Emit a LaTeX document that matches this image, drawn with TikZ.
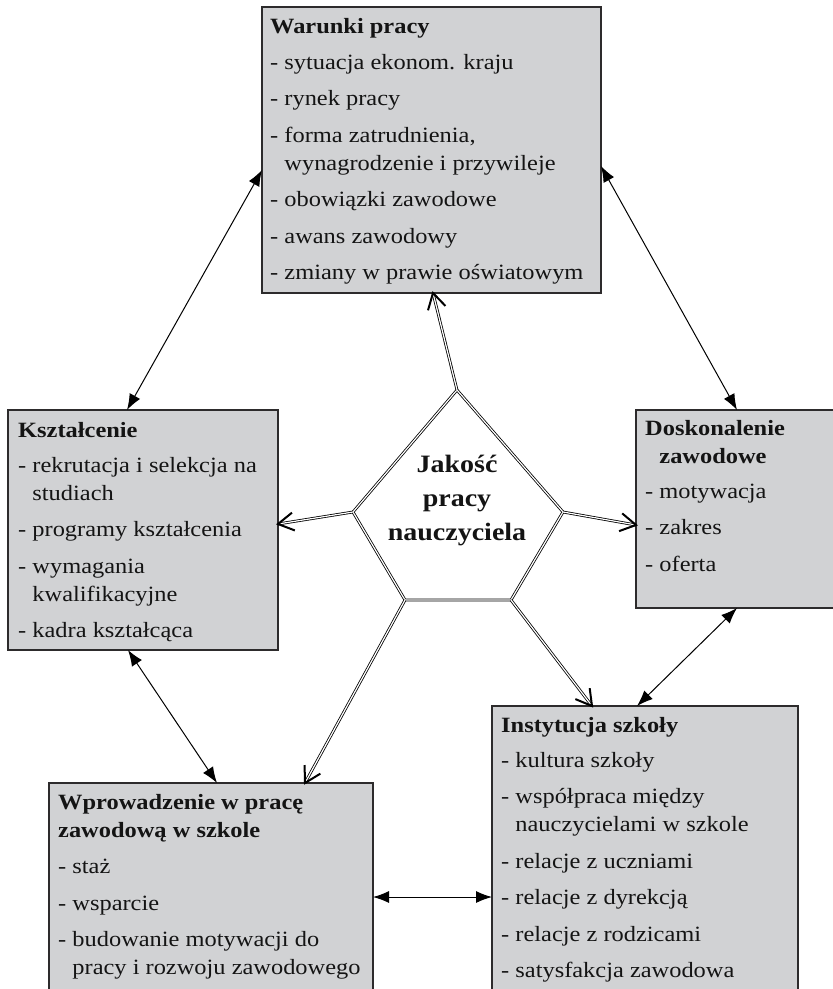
\documentclass[tikz,border=0pt]{standalone}
\usepackage{fontspec}
\setmainfont[FakeStretch=1.12]{Liberation Serif}
\usetikzlibrary{arrows.meta,calc}
\definecolor{boxfill}{RGB}{209,210,212}
\definecolor{boxline}{RGB}{45,43,44}
\newcommand\firstln{\rule{0pt}{17pt}}
\begin{document}
\begin{tikzpicture}[x=1pt,y=-1pt,
 box/.style={draw=boxline, line width=1.3pt, fill=boxfill, anchor=north west, inner sep=0pt, outer sep=0pt},
 txt/.style={anchor=north west, inner sep=0pt, align=left, text=black!92, font=\fontsize{21.8pt}{28pt}\selectfont},
 ctr/.style={anchor=north, inner sep=0pt, align=center, text=black!92, font=\bfseries\fontsize{25pt}{34pt}\selectfont},
 dbl/.style={draw=black, line width=0.8pt, double=white, double distance=1.2pt},
 barbline/.style={draw=black, line width=2pt, line cap=butt, line join=miter},
 link/.style={draw=black, line width=1pt, {Latex[length=16pt,width=12pt]}-{Latex[length=16pt,width=12pt]}}]
\useasboundingbox (0,0) rectangle (833,989);
\clip (0,0) rectangle (833,989);
% boxes
\node[box, minimum width=339pt, minimum height=286pt] (T) at (262,7) {};
\node[box, minimum width=270pt, minimum height=240pt] (L) at (8,410) {};
\node[box, minimum width=210pt, minimum height=198pt] (R) at (636,410) {};
\node[box, minimum width=324pt, minimum height=230pt] (BL) at (49,783) {};
\node[box, minimum width=306pt, minimum height=300pt] (BR) at (492,706) {};
% texts
\node[txt] (Tt) at ($(T.north west)+(8,9)$) {\firstln\textbf{Warunki pracy}\\[8pt]%
- sytuacja ekonom. kraju\\[8.5pt]%
- rynek pracy\\[8.5pt]%
- forma zatrudnienia,\\%
\phantom{- }wynagrodzenie i przywileje\\[8.5pt]%
- obowiązki zawodowe\\[8.5pt]%
- awans zawodowy\\[8.5pt]%
- zmiany w prawie oświatowym};
\node[txt] (Lt) at ($(L.north west)+(10,10)$) {\firstln\textbf{Kształcenie}\\[7pt]%
- rekrutacja i selekcja na\\%
\phantom{- }studiach\\[8.5pt]%
- programy kształcenia\\[8.5pt]%
- wymagania\\%
\phantom{- }kwalifikacyjne\\[8.5pt]%
- kadra kształcąca};
\node[txt] (Rt) at ($(R.north west)+(9,8)$) {\firstln\textbf{Doskonalenie}\\%
\textbf{\phantom{- }zawodowe}\\[7pt]%
- motywacja\\[8.5pt]%
- zakres\\[8.5pt]%
- oferta};
\node[txt] (BLt) at ($(BL.north west)+(9,9)$) {\firstln\textbf{Wprowadzenie w pracę}\\%
\textbf{zawodową w szkole}\\[8.5pt]%
- staż\\[8.5pt]%
- wsparcie\\[8.5pt]%
- budowanie motywacji do\\%
\phantom{- }pracy i rozwoju zawodowego};
\node[txt] (BRt) at ($(BR.north west)+(9,9)$) {\firstln\textbf{Instytucja szkoły}\\[7pt]%
- kultura szkoły\\[8.5pt]%
- współpraca między\\%
\phantom{- }nauczycielami w szkole\\[8.5pt]%
- relacje z uczniami\\[8.5pt]%
- relacje z dyrekcją\\[8.5pt]%
- relacje z rodzicami\\[8.5pt]%
- satysfakcja zawodowa};
% pentagon
\coordinate (P1) at (457,390);
\coordinate (P2) at (563,512);
\coordinate (P3) at (511,600);
\coordinate (P4) at (405,600);
\coordinate (P5) at (353,512);
\draw[dbl, fill=white, line join=miter] (P1)--(P2)--(P3)--(P4)--(P5)--cycle;
\node[ctr] (J) at (457,452) {\rule{0pt}{20pt}Jakość\\pracy\\nauczyciela};
% pentagon arrows
\coordinate (eT) at ($(T.south west)+(171,0)$);
\coordinate (eR) at ($(R.north west)+(0,115)$);
\coordinate (eL) at ($(L.north east)+(0,114)$);
\coordinate (eBL) at ($(BL.north west)+(256,0)$);
\coordinate (eBR) at ($(BR.north west)+(100,0)$);
\draw[dbl] (P1) -- (eT);
\draw[barbline] ($(eT)!18pt!30:(P1)$) -- (eT) -- ($(eT)!18pt!-30:(P1)$);
\draw[dbl] (P2) -- (eR);
\draw[barbline] ($(eR)!18pt!30:(P2)$) -- (eR) -- ($(eR)!18pt!-30:(P2)$);
\draw[dbl] (P5) -- (eL);
\draw[barbline] ($(eL)!18pt!30:(P5)$) -- (eL) -- ($(eL)!18pt!-30:(P5)$);
\draw[dbl] (P4) -- (eBL);
\draw[barbline] ($(eBL)!18pt!30:(P4)$) -- (eBL) -- ($(eBL)!18pt!-30:(P4)$);
\draw[dbl] (P3) -- (eBR);
\draw[barbline] ($(eBR)!18pt!30:(P3)$) -- (eBR) -- ($(eBR)!18pt!-30:(P3)$);
% box links
\draw[link] ($(T.north west)+(0,163)$) -- ($(L.north west)+(119,0)$);
\draw[link] ($(T.north east)+(0,159)$) -- ($(R.north west)+(101,0)$);
\draw[link] ($(L.south west)+(120,0)$) -- ($(BL.north west)+(168,0)$);
\draw[link] ($(R.south west)+(101,0)$) -- ($(BR.north west)+(145,0)$);
\draw[link] ($(BL.north east)+(0,114)$) -- ($(BR.north west)+(0,191)$);
\end{tikzpicture}
\end{document}
